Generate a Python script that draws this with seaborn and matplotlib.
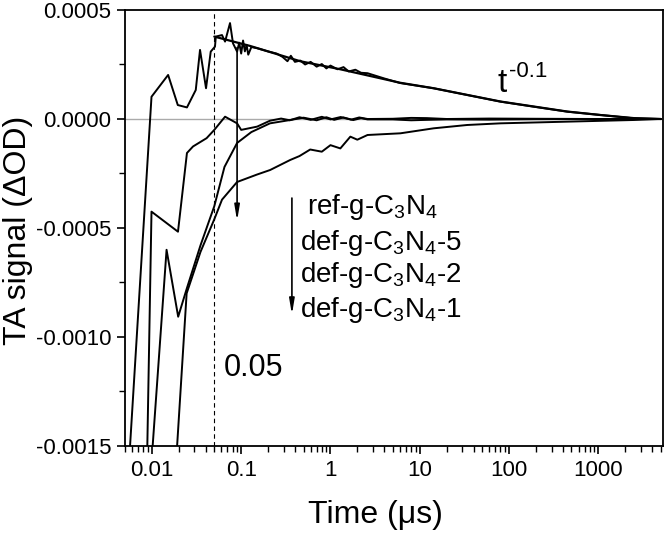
import matplotlib
matplotlib.use("Agg")
import matplotlib.pyplot as plt
import matplotlib.ticker as mticker
import pandas as pd
import seaborn as sns

# =========================
# dados
# =========================

t_ref = [0.0055, 0.0099, 0.0152, 0.0195, 0.0247, 0.031, 0.0346, 0.0404, 0.0456,
         0.0509, 0.052, 0.061, 0.066, 0.075, 0.081, 0.090, 0.095, 0.100, 0.105,
         0.110, 0.115, 0.120, 0.130, 0.15, 0.20, 0.25, 0.29, 0.33, 0.36, 0.40,
         0.46, 0.52, 0.6, 0.7, 0.8, 0.9, 1.0, 1.2, 1.4, 1.6, 1.9, 2.2, 2.6, 4.0,
         6.0, 14.3, 34.0, 80.5, 189.0, 451.0, 1067.0, 2500.0, 5000.0]
v_ref = [-0.0016, 0.000102, 0.000202, 0.000064, 0.000053, 0.000133, 0.000317,
         0.000141, 0.000309, 0.000332, 0.000378, 0.000385, 0.000355, 0.000440,
         0.000347, 0.000309, 0.000350, 0.000300, 0.000360, 0.000310, 0.000340,
         0.000295, 0.000330, 0.000325, 0.000310, 0.000300, 0.000285, 0.000265,
         0.000290, 0.000262, 0.000268, 0.000250, 0.000262, 0.000240, 0.000252,
         0.000232, 0.000245, 0.000228, 0.000238, 0.000218, 0.000226, 0.000212,
         0.000210, 0.000186, 0.000165, 0.000141, 0.000110, 0.0000794, 0.0000564,
         0.0000335, 0.0000183, 0.0000032, 0.0]

t_def5 = [0.0088, 0.0099, 0.0196, 0.0247, 0.0289, 0.041, 0.050, 0.066, 0.090,
          0.100, 0.151, 0.21, 0.28, 0.35, 0.45, 0.6, 0.8, 1.0, 1.3, 1.7, 2.1,
          2.6, 5.0, 8.0, 12.0, 20.0, 60.0, 200.0, 1000.0, 5000.0]
v_def5 = [-0.0016, -0.000425, -0.000517, -0.000156, -0.000126, -0.000088,
          -0.000050, 0.0000106, -0.000020, -0.000050, -0.000035, -0.000008,
          0.000002, -0.000006, 0.000008, -0.000004, 0.000010, -0.000002,
          0.000009, -0.000003, 0.000007, 0.0, 0.000001, 0.000005, 0.000004,
          0.000000, 0.000002, 0.000001, 0.0, 0.0]

t_def2 = [0.0098, 0.0146, 0.0197, 0.0245, 0.035, 0.050, 0.065, 0.090, 0.13,
          0.21, 0.35, 0.5, 0.7, 0.9, 1.1, 1.4, 1.8, 2.2, 2.6, 5.0, 8.0, 12.0,
          20.0, 60.0, 200.0, 1000.0, 5000.0]
v_def2 = [-0.0016, -0.000600, -0.000907, -0.000780, -0.000580, -0.000400,
          -0.000220, -0.000110, -0.000060, -0.000020, -0.000005, 0.000006,
          -0.000006, 0.000008, -0.000004, 0.000007, -0.000005, 0.000004,
          -0.000002, -0.000002, -0.000006, -0.000004, -0.000002, -0.000003,
          -0.000001, 0.0, 0.0]

t_def1 = [0.0185, 0.0245, 0.035, 0.050, 0.061, 0.090, 0.15, 0.211, 0.354,
          0.45, 0.593, 0.8, 1.0, 1.29, 1.67, 2.0, 2.6, 6.07, 14.3, 34.0, 80.5,
          451.0, 2500.0, 5000.0]
v_def1 = [-0.0016, -0.000800, -0.000610, -0.000460, -0.000370, -0.000289,
          -0.000255, -0.000234, -0.000188, -0.000170, -0.000140, -0.000150,
          -0.000120, -0.000135, -0.000081, -0.000095, -0.0000734, -0.0000657,
          -0.0000428, -0.0000275, -0.0000199, -0.0000122, -0.0000046, 0.0]

t_ajuste = [0.05, 0.126, 0.458, 1.29, 6.07, 14.3, 80.5, 451.0, 1067.0, 2500.0, 5000.0]
v_ajuste = [0.000378, 0.000335, 0.000265, 0.000228, 0.000166, 0.000141,
            0.000080, 0.000034, 0.000018, 0.000004, 0.0]

amostras = ["ref-g-C$_3$N$_4$", "def-g-C$_3$N$_4$-5",
            "def-g-C$_3$N$_4$-2", "def-g-C$_3$N$_4$-1"]

# =========================
# figura
# =========================

sns.set_style("ticks")
plt.rcParams["font.family"] = ["Liberation Sans", "DejaVu Sans"]
plt.rcParams["mathtext.fontset"] = "custom"
plt.rcParams["mathtext.rm"] = "Liberation Sans"
plt.rcParams["mathtext.it"] = "Liberation Sans"
for chave in ["text.color", "axes.labelcolor", "xtick.color", "ytick.color"]:
    plt.rcParams[chave] = "black"

fig = plt.figure(figsize=(6.66, 5.34), dpi=100)
ax = fig.add_axes([0.1877, 0.1648, 0.8078, 0.8165])

ax.axhline(0, color="#aaaaaa", lw=1.0, zorder=1)
ax.axvline(0.05, color="k", lw=0.8, ls=(0, (4, 3)), zorder=1)

for tt, vv in [(t_ref, v_ref), (t_def5, v_def5), (t_def2, v_def2), (t_def1, v_def1)]:
    df = pd.DataFrame({"t": tt, "v": vv})
    sns.lineplot(data=df, x="t", y="v", color="k", lw=1.4, sort=False,
                 estimator=None, ax=ax)

df_aj = pd.DataFrame({"t": t_ajuste, "v": v_ajuste})
sns.lineplot(data=df_aj, x="t", y="v", color="k", lw=1.6, sort=False,
             estimator=None, ax=ax)

ax.set_xscale("log")
ax.set_xlim(0.005, 5300)
ax.set_ylim(-0.0015, 0.0005)

ax.set_xticks([0.01, 0.1, 1, 10, 100, 1000])
ax.set_xticklabels(["0.01", "0.1", "1", "10", "100", "1000"])
ax.xaxis.set_minor_locator(mticker.LogLocator(base=10, subs=range(2, 10), numticks=20))
ax.xaxis.set_minor_formatter(mticker.NullFormatter())
ax.yaxis.set_major_locator(mticker.MultipleLocator(0.0005))
ax.yaxis.set_minor_locator(mticker.MultipleLocator(0.00025))
ax.yaxis.set_major_formatter(mticker.FormatStrFormatter("%.4f"))

ax.tick_params(which="major", direction="out", length=6, width=1.2,
               top=False, right=False, labelsize=16, pad=4)
ax.tick_params(which="minor", direction="out", length=4, width=1.0,
               top=False, right=False)
for lado in ax.spines.values():
    lado.set_linewidth(1.3)
    lado.set_color("k")

ax.set_xlabel("Time (μs)", fontsize=23)
ax.set_ylabel("TA signal (ΔOD)", fontsize=23)
ax.xaxis.set_label_coords(0.465, -0.125)
ax.yaxis.set_label_coords(-0.171, 0.495)

# setas
ax.annotate("", xy=(0.09, -0.00048), xytext=(0.09, 0.00034),
            arrowprops=dict(arrowstyle="-|>,head_width=0.15,head_length=0.9",
                            color="k", lw=1.2))
ax.annotate("", xy=(0.37, -0.00091), xytext=(0.37, -0.00035),
            arrowprops=dict(arrowstyle="-|>,head_width=0.15,head_length=0.9",
                            color="k", lw=1.2))

# textos
y_txt = [-0.000404, -0.000569, -0.000716, -0.000876]
x_txt = [0.55, 0.45, 0.45, 0.45]
for nome, xx, yy in zip(amostras, x_txt, y_txt):
    ax.text(xx, yy, nome, fontsize=20, va="center", ha="left")

ax.text(0.064, -0.00114, "0.05", fontsize=22, va="center", ha="left")
ax.text(74, 0.000122, "t", fontsize=24, va="baseline", ha="left")
ax.annotate("-0.1", xy=(74, 0.000122), xytext=(12, 15),
            textcoords="offset pixels", fontsize=16, va="baseline", ha="left")

fig.savefig("out.png", dpi=100)
